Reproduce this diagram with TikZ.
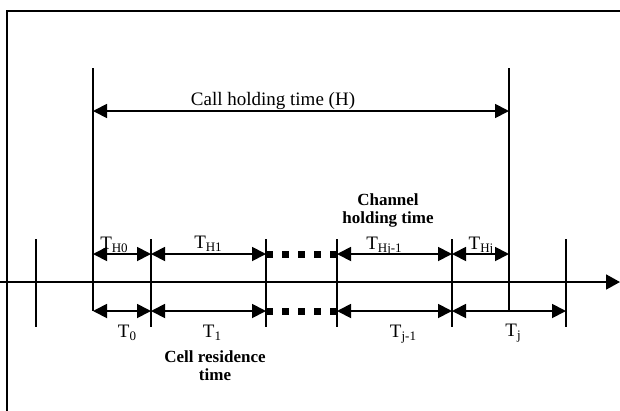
\documentclass[tikz,border=0pt]{standalone}
\usepackage{fontspec}
\setmainfont{Liberation Serif}
\usetikzlibrary{arrows.meta}
\newcommand{\sbs}[1]{\raisebox{-3.5pt}{\fontsize{13}{13}\selectfont #1}}
\begin{document}
\begin{tikzpicture}[x=1pt,y=-1pt,
  ln/.style={line width=1.8pt},
  tri/.style={Triangle[length=14pt,width=14pt]},
  dbl/.style={line width=1.8pt,{Triangle[length=14pt,width=14pt]}-{Triangle[length=14pt,width=14pt]}},
  lbl/.style={font=\fontsize{19}{22}\selectfont, inner sep=0pt, anchor=base},
  boldlbl/.style={font=\fontsize{17}{18.5}\selectfont\bfseries, align=center, inner sep=0pt, anchor=north},
  dotrow/.style={line width=7pt, dash pattern=on 7pt off 9pt}]
\useasboundingbox (0,0) rectangle (620,410);
% frame
\draw[ln] (7,420) -- (7,11) -- (630,11);
% time axis
\coordinate (axL) at (0,282);
\coordinate (axR) at (620,282);
\draw[line width=1.8pt,-{Triangle[length=14pt,width=15pt]}] (axL) -- (axR);
% long ticks
\coordinate (s0) at (93,68);  \coordinate (s1) at (93,311);
\coordinate (e0) at (509,68); \coordinate (e1) at (509,311);
\draw[ln] (s0) -- (s1);
\draw[ln] (e0) -- (e1);
% short ticks
\foreach \n/\x in {a/36,b/151,c/266,d/337,f/452,g/566}{
  \coordinate (\n t) at (\x,239);
  \coordinate (\n b) at (\x,327);
  \draw[ln] (\n t) -- (\n b);
}
% call holding time
\coordinate (h0) at (93,111);
\coordinate (h1) at (509,111);
\draw[dbl] (h0) -- (h1);
\node[lbl] (callh) at (273,105) {Call holding time (H)};
% channel holding times (upper)
\coordinate (u0) at (93,254);
\coordinate (u1) at (151,254);
\coordinate (u2) at (266,254);
\coordinate (u3) at (337,254);
\coordinate (u4) at (452,254);
\coordinate (u5) at (509,254);
\draw[dbl] (u0) -- (u1);
\draw[dbl] (u1) -- (u2);
\draw[dotrow] (u2) -- (u3);
\draw[dbl] (u3) -- (u4);
\draw[dbl] (u4) -- (u5);
\node[lbl] (th0) at (114,249) {T\sbs{H0}};
\node[lbl] (th1) at (208,248) {T\sbs{H1}};
\node[lbl] (thj1) at (384,249) {T\sbs{Hj-1}};
\node[lbl] (thj) at (481,249) {T\sbs{Hj}};
% cell residence times (lower)
\coordinate (l0) at (93,311);
\coordinate (l1) at (151,311);
\coordinate (l2) at (266,311);
\coordinate (l3) at (337,311);
\coordinate (l4) at (452,311);
\coordinate (l5) at (566,311);
\draw[dbl] (l0) -- (l1);
\draw[dbl] (l1) -- (l2);
\draw[dotrow] (l2) -- (l3);
\draw[dbl] (l3) -- (l4);
\draw[dbl] (l4) -- (l5);
\node[lbl] (t0) at (127,337) {T\sbs{0}};
\node[lbl] (t1) at (212,337) {T\sbs{1}};
\node[lbl] (tj1) at (403,337) {T\sbs{j-1}};
\node[lbl] (tj) at (513,336) {T\sbs{j}};
% bold captions
\node[boldlbl] (chan) at (388,193) {Channel\\holding time};
\node[boldlbl] (cell) at (215,350) {Cell residence\\time};
\end{tikzpicture}
\end{document}
